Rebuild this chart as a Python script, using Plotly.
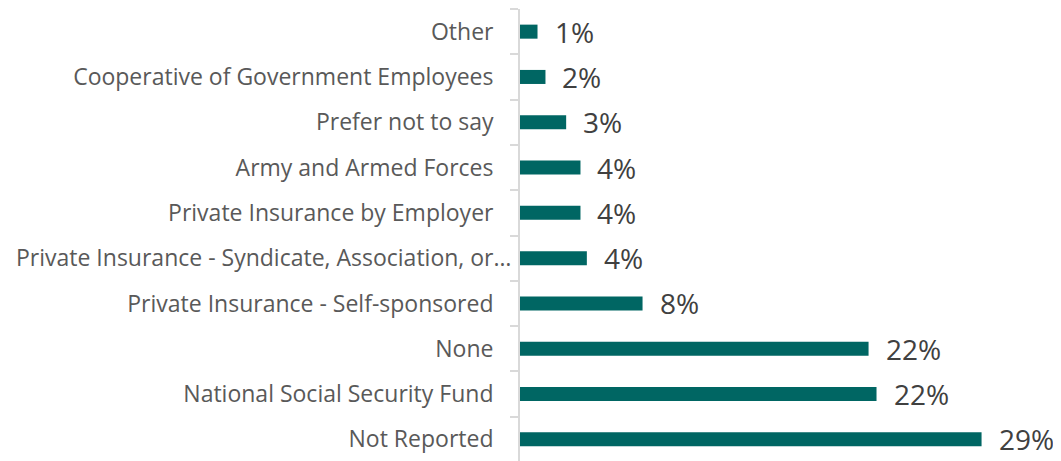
import plotly.graph_objects as go

categories = ['Not Reported', 'National Social Security Fund', 'None',
              'Private Insurance - Self-sponsored',
              'Private Insurance - Syndicate, Association, or…',
              'Private Insurance by Employer', 'Army and Armed Forces',
              'Prefer not to say', 'Cooperative of Government Employees', 'Other']
shares = [29.0, 22.4, 21.9, 7.7, 4.2, 3.8, 3.8, 2.9, 1.6, 1.1]
labels = ['29%', '22%', '22%', '8%', '4%', '4%', '4%', '3%', '2%', '1%']

bar_color = '#006663'

# truncated label runs closer to the axis than the others
tick_text = [c if c.endswith('…') else c + '\u00a0' * 3 for c in categories]

fig = go.Figure()
fig.add_trace(go.Bar(
    x=shares, y=categories, orientation='h',
    marker=dict(color=bar_color, line=dict(width=0)),
    width=0.31, hoverinfo='skip'
))

# value labels sit a bit to the right of each bar
for c, v, t in zip(categories, shares, labels):
    fig.add_annotation(x=v, y=c, text=t, showarrow=False, xanchor='left',
                       xshift=15, font=dict(family='Open Sans', size=28, color='#404040'))

# page body has an 8px margin, so the figure is a bit smaller than the window
fig.update_layout(
    width=1053, height=454,
    margin=dict(l=512, r=11, t=1, b=0),
    plot_bgcolor='#FFF', paper_bgcolor='#FFF',
    showlegend=False,
    font=dict(family='Open Sans'),
    xaxis=dict(range=[0, 33.3], visible=False, fixedrange=True),
    yaxis=dict(
        type='category', tickson='boundaries', ticks='outside', ticklen=8,
        tickcolor='#D9D9D9', tickwidth=2, showline=True, linecolor='#D9D9D9', linewidth=2,
        showgrid=False, ticklabelstandoff=2, automargin=False,
        tickvals=categories, ticktext=tick_text,
        tickfont=dict(family='Open Sans', size=23, color='#595959'),
        fixedrange=True
    )
)

fig.write_html("out.html")
